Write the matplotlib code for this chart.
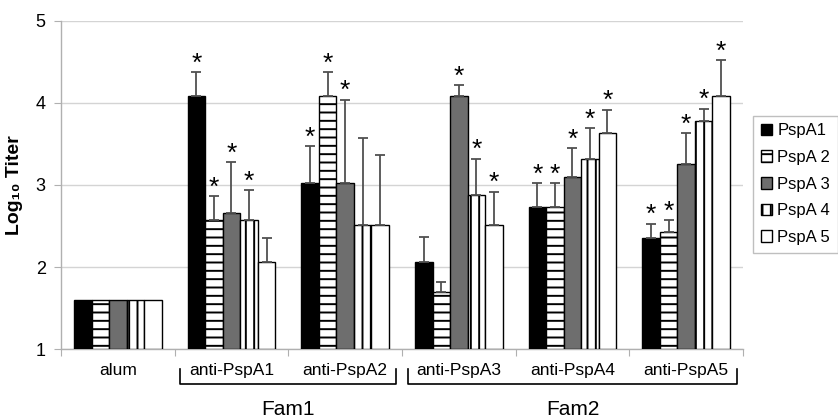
import numpy as np
import matplotlib.pyplot as plt
from matplotlib.patches import Patch

plt.rcParams['font.family'] = ['Liberation Sans', 'DejaVu Sans']
plt.rcParams['hatch.linewidth'] = 1.4

groups = ['alum', 'anti-PspA1', 'anti-PspA2', 'anti-PspA3', 'anti-PspA4', 'anti-PspA5']
series = ['PspA1', 'PspA 2', 'PspA 3', 'PspA 4', 'PspA 5']

# mean log10 titer per series, one value per group
pspa1 = [1.6, 4.08, 3.03, 2.06, 2.73, 2.35]
pspa2 = [1.6, 2.57, 4.08, 1.69, 2.73, 2.43]
pspa3 = [1.6, 2.66, 3.03, 4.08, 3.10, 3.25]
pspa4 = [1.6, 2.57, 2.51, 2.88, 3.32, 3.78]
pspa5 = [1.6, 2.06, 2.51, 2.51, 3.63, 4.08]

# top of the upper error bar (None = no bar drawn)
err1 = [None, 4.38, 3.47, 2.36, 3.02, 2.53]
err2 = [None, 2.86, 4.38, 1.82, 3.02, 2.57]
err3 = [None, 3.28, 4.04, 4.22, 3.45, 3.63]
err4 = [None, 2.94, 3.57, 3.32, 3.69, 3.93]
err5 = [None, 2.35, 3.37, 2.92, 3.92, 4.52]

# significance markers
sig1 = [0, 1, 1, 0, 1, 1]
sig2 = [0, 1, 1, 0, 1, 1]
sig3 = [0, 1, 1, 1, 1, 1]
sig4 = [0, 1, 0, 1, 1, 1]
sig5 = [0, 0, 0, 1, 1, 1]

values = [pspa1, pspa2, pspa3, pspa4, pspa5]
errtops = [err1, err2, err3, err4, err5]
sigs = [sig1, sig2, sig3, sig4, sig5]

families = [('Fam1', 1, 2), ('Fam2', 3, 5)]

faces = ['black', 'white', '#6e6e6e', 'white', 'white']
hatches = [None, '--', None, '||', None]

fig = plt.figure(figsize=(8.38, 4.19), dpi=100)
ax = fig.add_axes([0.0728, 0.167, 0.8138, 0.783])

x = np.arange(len(groups))
w = 0.154
handles = []
for j in range(5):
    xs = x + (j - 2) * w
    ax.bar(xs, np.array(values[j]) - 1, bottom=1, width=w, color=faces[j],
           edgecolor='black', linewidth=1.0, hatch=hatches[j], zorder=3)
    for i in range(len(groups)):
        top = errtops[j][i]
        if top is not None:
            ax.errorbar(xs[i], values[j][i], yerr=[[0], [top - values[j][i]]],
                        fmt='none', ecolor='#505050', elinewidth=1.3,
                        capsize=3.6, capthick=1.3, zorder=4)
        if sigs[j][i]:
            yy = top if top is not None else values[j][i]
            ax.annotate('*', (xs[i], yy), xytext=(0, 1), textcoords='offset points',
                        ha='center', va='baseline', fontsize=19, zorder=5)
    handles.append(Patch(facecolor=faces[j], edgecolor='black', hatch=hatches[j],
                         linewidth=1.0, label=series[j]))

ax.set_xlim(-0.5, len(groups) - 0.5)
ax.set_ylim(1, 5)
ax.set_yticks([1, 2, 3, 4, 5])
ax.yaxis.grid(True, color='#d4d4d4', linewidth=1.0, zorder=0)
ax.set_axisbelow(True)

for s in ['top', 'right']:
    ax.spines[s].set_visible(False)
for s in ['left', 'bottom']:
    ax.spines[s].set_color('#b0b0b0')
    ax.spines[s].set_linewidth(1.0)

ax.set_xticks(np.arange(len(groups) + 1) - 0.5)
ax.set_xticklabels([])
ax.set_xticks(x, minor=True)
ax.set_xticklabels(groups, minor=True, fontsize=12.5)
ax.tick_params(axis='x', which='major', length=5, color='#b0b0b0', direction='out')
ax.tick_params(axis='x', which='minor', length=0, pad=10)
ax.tick_params(axis='y', length=5, color='#b0b0b0', labelsize=13, pad=6)

ax.set_ylabel('Log\u2081\u2080 Titer', fontsize=14, fontweight='bold', labelpad=9)

# family brackets under the category labels
for name, g0, g1 in families:
    xl, xr = g0 - 0.45, g1 + 0.45
    ax.plot([xl, xl, xr, xr], [-0.061, -0.107, -0.107, -0.061],
            transform=ax.get_xaxis_transform(), color='black', linewidth=1.2,
            clip_on=False)
    ax.text((xl + xr) / 2, -0.185, name, transform=ax.get_xaxis_transform(),
            ha='center', va='center', fontsize=15)

fig.legend(handles=handles, loc='upper left', bbox_to_anchor=(753 / 838, 1 - 116 / 419),
           fontsize=12, handlelength=0.7, handleheight=0.7, handletextpad=0.3,
           labelspacing=0.7, frameon=True, fancybox=False, edgecolor='#b0b0b0',
           borderpad=0.45, borderaxespad=0)

fig.savefig('out.png', dpi=100)
